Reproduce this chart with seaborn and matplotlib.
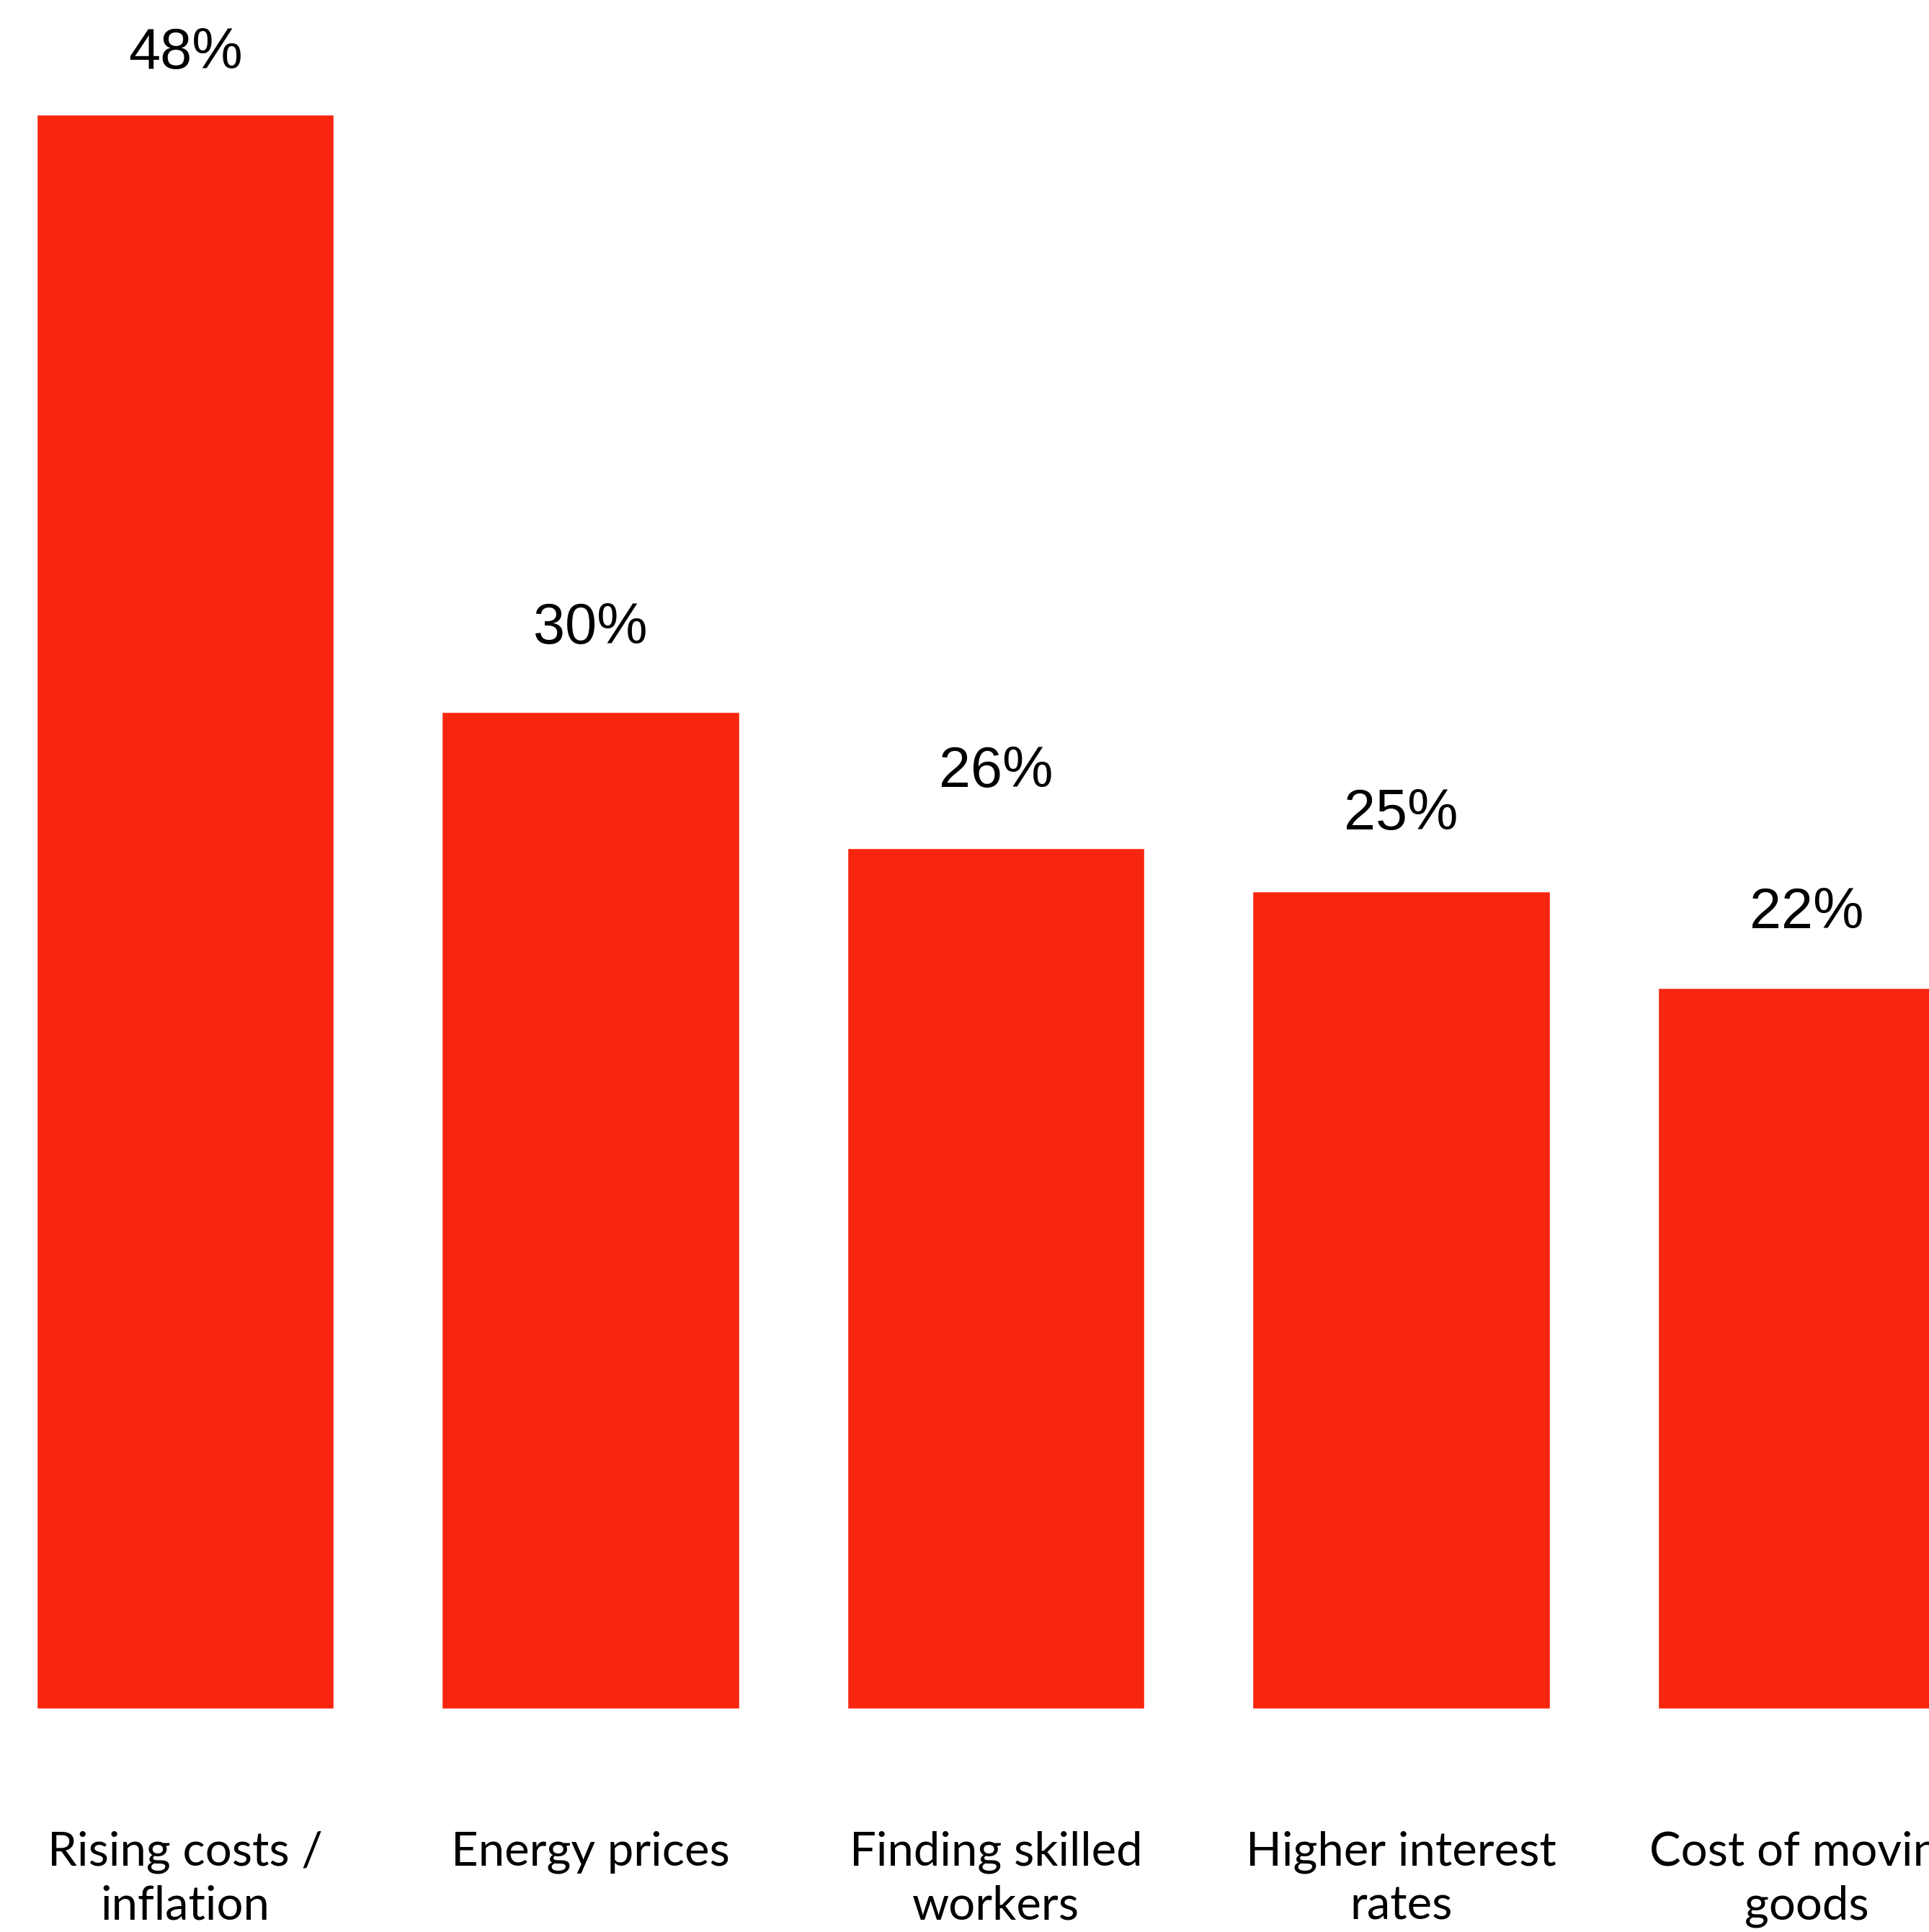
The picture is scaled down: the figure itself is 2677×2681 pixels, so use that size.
import matplotlib
matplotlib.use("Agg")
import matplotlib.pyplot as plt
import seaborn as sns
import pandas as pd

categorias = ["Rising costs /\ninflation", "Energy prices", "Finding skilled\nworkers",
              "Higher interest\nrates", "Cost of moving\ngoods"]
valores = [48, 30, 25.9, 24.6, 21.7]
etiquetas = ["48%", "30%", "26%", "25%", "22%"]
desfase_px = [47, 78, 68, 69, 66]   # hueco entre barra y etiqueta

df = pd.DataFrame({"categoria": categorias, "valor": valores})

sns.set_style("white")
plt.rcParams["font.family"] = ["Lato", "DejaVu Sans"]
plt.rcParams["text.color"] = "black"
plt.rcParams["xtick.color"] = "black"

fig = plt.figure(figsize=(26.77, 26.81), dpi=100)
ax = fig.add_axes([0, 310 / 2681, 1, 1 - 310 / 2681])

sns.barplot(data=df, x="categoria", y="valor", color="#F9260F", saturation=1,
            width=0.733, ax=ax)

for i, p in enumerate(ax.patches):
    ax.annotate(etiquetas[i], (p.get_x() + p.get_width() / 2, p.get_height()),
                xytext=(0, desfase_px[i] * 0.72), textcoords="offset points",
                ha="center", va="bottom", fontsize=57,
                family=["Liberation Sans", "DejaVu Sans"], color="black")

ax.set_xlim(-0.457, 4.302)
ax.set_ylim(0, 51.45)
ax.set_xlabel("")
ax.set_ylabel("")
ax.set_yticks([])
ax.tick_params(axis="x", length=0, pad=122, labelsize=47, labelcolor="black")
for lab in ax.get_xticklabels():
    lab.set_linespacing(1.32)
sns.despine(ax=ax, left=True, bottom=True)

fig.savefig("out.png", dpi=100)
